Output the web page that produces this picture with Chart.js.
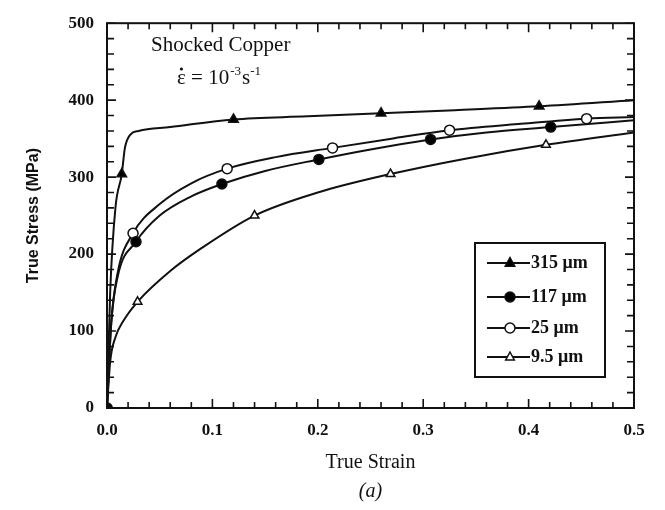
<!DOCTYPE html>
<html>
<head>
<meta charset="utf-8">
<script src="https://cdn.jsdelivr.net/npm/chart.js@4/dist/chart.umd.min.js"></script>
<style>
  html, body { margin: 0; padding: 0; background: #fff; }
  canvas { display: block; }
</style>
</head>
<body>
<canvas id="c" width="665" height="510"></canvas>
<script>
// Series labels (grain size)
const grainLabels = ['315 μm', '117 μm', '25 μm', '9.5 μm'];

// 315 μm
const strain315 = [0, 0.003, 0.008, 0.014, 0.017, 0.022, 0.03, 0.06, 0.12, 0.19, 0.26, 0.33, 0.41, 0.5];
const stress315 = [0, 150, 260, 304, 338, 355, 360, 365, 375, 379, 383, 387, 392, 400];
const mark315   = [1, 0, 0, 1, 0, 0, 0, 0, 1, 0, 1, 0, 1, 0];

// 117 μm
const strain117 = [0, 0.004, 0.01, 0.0275, 0.05, 0.08, 0.109, 0.15, 0.201, 0.25, 0.307, 0.36, 0.421, 0.5];
const stress117 = [0, 110, 170, 216, 250, 275, 291, 308, 323, 336, 349, 358, 365, 374];
const mark117   = [1, 0, 0, 1, 0, 0, 1, 0, 1, 0, 1, 0, 1, 0];

// 25 μm
const strain25 = [0, 0.004, 0.01, 0.0247, 0.05, 0.08, 0.114, 0.16, 0.214, 0.27, 0.325, 0.39, 0.455, 0.5];
const stress25 = [0, 110, 175, 227, 265, 292, 311, 326, 338, 350, 361, 369, 376, 378];
const mark25   = [1, 0, 0, 1, 0, 0, 1, 0, 1, 0, 1, 0, 1, 0];

// 9.5 μm
const strain9 = [0, 0.003, 0.008, 0.015, 0.029, 0.06, 0.09, 0.14, 0.2, 0.269, 0.34, 0.4165, 0.5];
const stress9 = [0, 60, 92, 112, 138, 178, 208, 250, 280, 304, 324, 342, 358];
const mark9   = [1, 0, 0, 0, 1, 0, 0, 1, 0, 1, 0, 1, 0];

// Axis ticks
const strainTicks = [0, 0.1, 0.2, 0.3, 0.4, 0.5];
const stressTicks = [0, 100, 200, 300, 400, 500];

const SERIF = '"Liberation Serif", "Times New Roman", serif';
const SANS = '"Liberation Sans", Arial, sans-serif';

function toPoints(xs, ys) { return xs.map((x, i) => ({ x: x, y: ys[i] })); }

const markerStyles = [
  { style: 'triangle', fill: '#000', r: 5.5 },
  { style: 'circle', fill: '#000', r: 5 },
  { style: 'circle', fill: '#fff', r: 5 },
  { style: 'triangle', fill: '#fff', r: 5 }
];
const markFlags = [mark315, mark117, mark25, mark9];

function makeSet(i, xs, ys) {
  const m = markerStyles[i];
  return {
    label: grainLabels[i],
    data: toPoints(xs, ys),
    borderColor: '#111',
    borderWidth: 2,
    cubicInterpolationMode: 'monotone',
    pointStyle: m.style,
    pointBackgroundColor: m.fill,
    pointBorderColor: '#111',
    pointBorderWidth: 1.5,
    pointRadius: ctx => markFlags[i][ctx.dataIndex] ? m.r : 0,
    pointHoverRadius: 0
  };
}

// Draws a marker like the chart's own points (used in the legend box)
function drawMarker(ctx, m, x, y) {
  ctx.save();
  ctx.beginPath();
  if (m.style === 'circle') {
    ctx.arc(x, y, m.r, 0, Math.PI * 2);
  } else {
    const r = m.r;
    ctx.moveTo(x, y - r);
    ctx.lineTo(x + r * 0.866, y + r * 0.5 + 0.5);
    ctx.lineTo(x - r * 0.866, y + r * 0.5 + 0.5);
    ctx.closePath();
  }
  ctx.fillStyle = m.fill;
  ctx.fill();
  ctx.lineWidth = 1.5;
  ctx.strokeStyle = '#111';
  ctx.stroke();
  ctx.restore();
}

const framePlugin = {
  id: 'frame',
  afterDatasetsDraw(chart) {
    const { ctx, chartArea: a, scales } = chart;
    const xs = scales.x, ys = scales.y;
    ctx.save();
    ctx.strokeStyle = '#111';

    // frame
    ctx.lineWidth = 2;
    ctx.strokeRect(a.left, a.top, a.right - a.left, a.bottom - a.top);

    // inward ticks on all four sides
    ctx.lineWidth = 1.6;
    ctx.beginPath();
    for (let v = 0; v <= 500; v += 20) {
      const y = ys.getPixelForValue(v);
      const len = v % 100 === 0 ? 9 : 7;
      ctx.moveTo(a.left, y); ctx.lineTo(a.left + len, y);
      ctx.moveTo(a.right, y); ctx.lineTo(a.right - len, y);
    }
    for (let k = 0; k <= 25; k++) {
      const v = k * 0.02;
      const x = xs.getPixelForValue(v);
      const len = k % 5 === 0 ? 9 : 6;
      ctx.moveTo(x, a.bottom); ctx.lineTo(x, a.bottom - len);
      ctx.moveTo(x, a.top); ctx.lineTo(x, a.top + len);
    }
    ctx.stroke();

    // annotation text in the plot
    ctx.fillStyle = '#111';
    ctx.textBaseline = 'alphabetic';
    ctx.textAlign = 'left';
    ctx.font = '21px ' + SERIF;
    ctx.fillText('Shocked Copper', 151, 51);
    // strain-rate line: ε̇ = 10^-3 s^-1 (dot drawn over the epsilon)
    let x0 = 177, yb = 84;
    ctx.font = '21px ' + SERIF;
    ctx.fillText('ε', x0, yb);
    const we = ctx.measureText('ε').width;
    ctx.beginPath();
    ctx.arc(x0 + we / 2, yb - 15, 1.6, 0, Math.PI * 2);
    ctx.fill();
    let cx = x0 + we;
    ctx.fillText(' = 10', cx, yb);
    cx += ctx.measureText(' = 10').width + 1;
    ctx.font = '13px ' + SERIF;
    ctx.fillText('-3', cx, yb - 9);
    cx += ctx.measureText('-3').width + 1;
    ctx.font = '21px ' + SERIF;
    ctx.fillText('s', cx, yb);
    cx += ctx.measureText('s').width;
    ctx.font = '13px ' + SERIF;
    ctx.fillText('-1', cx, yb - 9);

    // axis titles
    ctx.textAlign = 'center';
    ctx.font = '20px ' + SERIF;
    ctx.fillText('True Strain', (a.left + a.right) / 2, 468);
    ctx.font = 'italic 20px ' + SERIF;
    ctx.fillText('(a)', (a.left + a.right) / 2, 497);
    ctx.save();
    ctx.translate(38, (a.top + a.bottom) / 2);
    ctx.rotate(-Math.PI / 2);
    ctx.font = 'bold 16px ' + SANS;
    ctx.fillText('True Stress (MPa)', 0, 0);
    ctx.restore();

    // legend box
    const bx = 475, by = 243, bw = 130, bh = 134;
    ctx.fillStyle = '#fff';
    ctx.fillRect(bx, by, bw, bh);
    ctx.lineWidth = 2;
    ctx.strokeRect(bx, by, bw, bh);
    const rows = [263, 297, 328, 357];
    chart.data.datasets.forEach((ds, i) => {
      const yy = rows[i];
      ctx.lineWidth = 2;
      ctx.beginPath();
      ctx.moveTo(487, yy); ctx.lineTo(530, yy);
      ctx.stroke();
      drawMarker(ctx, markerStyles[i], 510, yy);
      ctx.fillStyle = '#111';
      ctx.textAlign = 'left';
      ctx.textBaseline = 'middle';
      ctx.font = 'bold 18px ' + SERIF;
      ctx.fillText(ds.label, 531, yy);
    });
    ctx.restore();
  }
};

new Chart(document.getElementById('c'), {
  type: 'line',
  data: {
    datasets: [
      makeSet(0, strain315, stress315),
      makeSet(1, strain117, stress117),
      makeSet(2, strain25, stress25),
      makeSet(3, strain9, stress9)
    ]
  },
  options: {
    responsive: false,
    animation: false,
    layout: { padding: { top: 13, right: 31, left: 0, bottom: 0 } },
    plugins: { legend: { display: false }, tooltip: { enabled: false } },
    scales: {
      x: {
        type: 'linear',
        min: 0, max: 0.5,
        afterFit: s => { s.height = 102; },
        afterBuildTicks: s => { s.ticks = strainTicks.map(v => ({ value: v })); },
        grid: { display: false, drawTicks: false },
        border: { display: false },
        ticks: {
          padding: 12,
          color: '#111',
          font: { family: SERIF, size: 17, weight: 'bold' },
          callback: v => v.toFixed(1)
        }
      },
      y: {
        type: 'linear',
        min: 0, max: 500,
        afterFit: s => { s.width = 107; },
        afterBuildTicks: s => { s.ticks = stressTicks.map(v => ({ value: v })); },
        grid: { display: false, drawTicks: false },
        border: { display: false },
        ticks: {
          padding: 13,
          color: '#111',
          font: { family: SERIF, size: 17, weight: 'bold' },
          callback: v => String(v)
        }
      }
    }
  },
  plugins: [framePlugin]
});
</script>
</body>
</html>
